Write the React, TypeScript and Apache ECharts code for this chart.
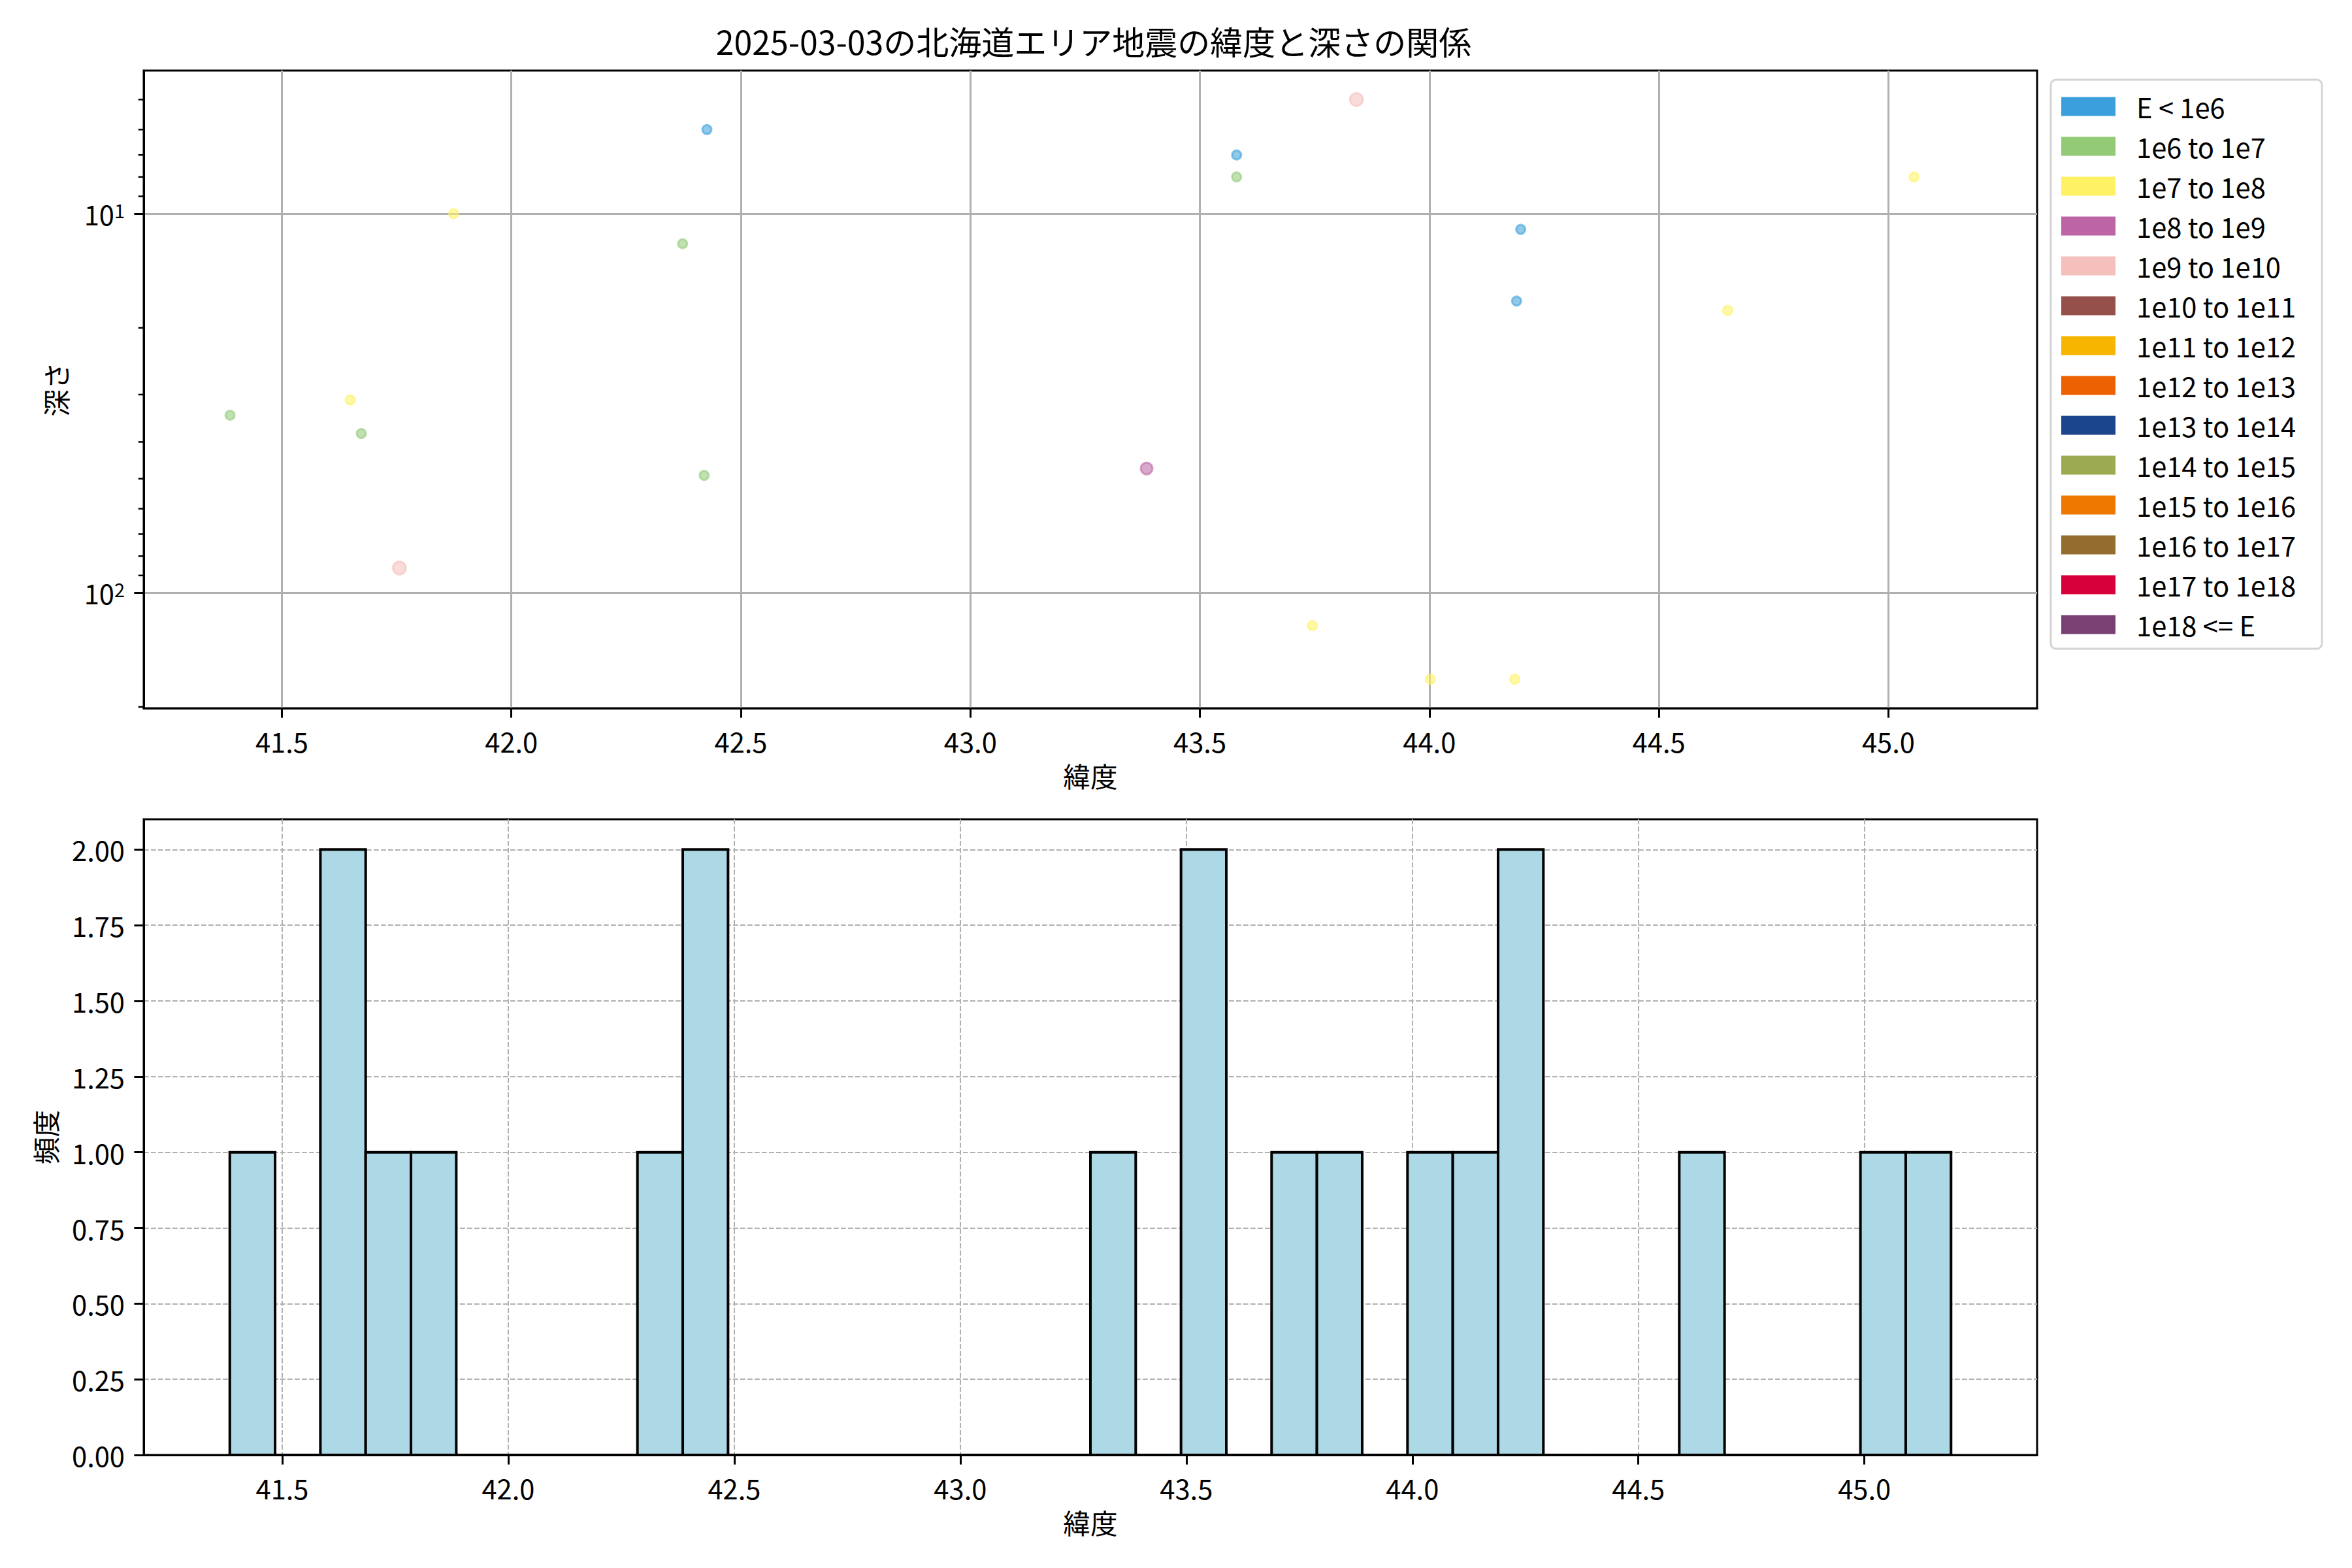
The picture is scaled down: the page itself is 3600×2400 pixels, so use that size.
import React, { useEffect, useRef } from "react";
import * as echarts from "echarts";

const TITLE = "2025-03-03の北海道エリア地震の緯度と深さの関係";
const X_NAME = "緯度";
const Y_NAME_TOP = "深さ";
const Y_NAME_BOTTOM = "頻度";

const energyClasses = [
  "E < 1e6", "1e6 to 1e7", "1e7 to 1e8", "1e8 to 1e9", "1e9 to 1e10",
  "1e10 to 1e11", "1e11 to 1e12", "1e12 to 1e13", "1e13 to 1e14",
  "1e14 to 1e15", "1e15 to 1e16", "1e16 to 1e17", "1e17 to 1e18", "1e18 <= E",
];
const classColors = [
  "#3A9FDB", "#93CA76", "#FEF264", "#BC64A4", "#F5BFBC",
  "#95504C", "#F8B500", "#EC6102", "#1B468D",
  "#9CAB50", "#EE7800", "#946C2D", "#D7003A", "#7B4073",
];

// scatter: latitude, depth, energy class index, marker size
const quakeLat = [41.387, 41.649, 41.673, 41.756, 41.874, 42.373, 42.420, 42.426, 43.384, 43.580, 43.580, 43.745, 43.841, 44.002, 44.186, 44.199, 44.190, 44.650, 45.056];
const quakeDepth = [34, 31, 38, 86, 10, 12, 49, 6, 47, 7, 8, 122, 5, 169, 169, 11, 17, 18, 8];
const quakeClass = [1, 2, 1, 4, 2, 1, 1, 0, 3, 0, 1, 2, 4, 2, 2, 0, 0, 2, 2];
const quakeSize = [14, 14, 14, 20, 14, 14, 14, 14, 18, 14, 14, 14, 20, 14, 14, 14, 14, 14, 14];

// histogram
const histStart = 41.384;
const histBinWidth = 0.1002;
const histCounts = [1, 0, 2, 1, 1, 0, 0, 0, 0, 1, 2, 0, 0, 0, 0, 0, 0, 0, 0, 1, 0, 2, 0, 1, 1, 0, 1, 1, 2, 0, 0, 0, 1, 0, 0, 0, 1, 1];

// axis limits / ticks
const topXMin = 41.199;
const topXMax = 45.324;
const latTicks = [41.5, 42.0, 42.5, 43.0, 43.5, 44.0, 44.5, 45.0];
const depthMajorTicks = [10, 100];
const depthMinorTicks = [5, 6, 7, 8, 9, 20, 30, 40, 50, 60, 70, 80, 90, 200];
const countTicks = [0, 0.25, 0.5, 0.75, 1.0, 1.25, 1.5, 1.75, 2.0];

const FONT = "'Noto Sans CJK JP', 'Noto Sans', sans-serif";
const FS = 41.7;

function hexToRgba(hex: string, a: number) {
  const n = parseInt(hex.slice(1), 16);
  return `rgba(${(n >> 16) & 255},${(n >> 8) & 255},${n & 255},${a})`;
}

function isTick(list: number[], v: number) {
  return list.some((t) => Math.abs(t - v) < 1e-6 * Math.max(1, Math.abs(t)));
}

export default function App() {
  const ref = useRef<HTMLDivElement>(null);

  useEffect(() => {
    if (!ref.current) return;
    const chart = echarts.init(ref.current, undefined, { renderer: "svg" });

    // log-depth limits with 5% margin
    const lMin = Math.log10(Math.min(...quakeDepth));
    const lMax = Math.log10(Math.max(...quakeDepth));
    const lSpan = lMax - lMin;
    const yTopMin = Math.pow(10, lMin - 0.05 * lSpan);
    const yTopMax = Math.pow(10, lMax + 0.05 * lSpan);

    const histEnd = histStart + histCounts.length * histBinWidth;
    const hSpan = histEnd - histStart;
    const botXMin = histStart - 0.05 * hSpan;
    const botXMax = histEnd + 0.05 * hSpan;
    const histYMax = Math.max(...histCounts) * 1.05;

    const mkX = (gi: number, min: number, max: number, dashed: boolean) => ({
      type: "value",
      gridIndex: gi,
      min,
      max,
      splitNumber: 8,
      name: X_NAME,
      nameLocation: "middle",
      nameGap: 82,
      nameTextStyle: { fontSize: FS, color: "#000", fontFamily: FONT },
      axisLine: { show: true, onZero: false, lineStyle: { color: "#000", width: 3 } },
      axisTick: { show: true, length: 14.6, customValues: latTicks, lineStyle: { color: "#000", width: 3 } },
      axisLabel: {
        customValues: latTicks,
        fontSize: FS,
        color: "#000",
        fontFamily: FONT,
        margin: 29,
        formatter: (v: number) => (isTick(latTicks, v) ? v.toFixed(1) : ""),
      },
      splitLine: {
        show: true,
        showMinLine: true,
        showMaxLine: true,
        lineStyle: dashed
          ? { color: "#b0b0b0", width: 2, type: [7.7, 3.3] }
          : { color: "#b0b0b0", width: 3 },
      },
    });

    const scatterSeries = energyClasses.map((name, k) => {
      const data: any[] = [];
      quakeLat.forEach((lat, i) => {
        if (quakeClass[i] === k) data.push({ value: [lat, quakeDepth[i]], symbolSize: quakeSize[i] });
      });
      return {
        type: "scatter",
        name,
        xAxisIndex: 0,
        yAxisIndex: 0,
        data,
        symbol: "circle",
        itemStyle: {
          color: hexToRgba(classColors[k], 0.7),
          borderColor: hexToRgba(classColors[k], 0.7),
          borderWidth: 3,
        },
        emphasis: { disabled: true },
        z: 3,
      };
    });

    const option: any = {
      animation: false,
      backgroundColor: "#fff",
      textStyle: { fontFamily: FONT },
      title: {
        text: TITLE,
        left: 1669,
        top: 32,
        textAlign: "center",
        textStyle: { fontSize: 50, fontWeight: "normal", color: "#000", fontFamily: FONT },
      },
      legend: {
        orient: "vertical",
        left: 3139,
        top: 122,
        padding: [20, 40, 16, 16],
        itemWidth: 83,
        itemHeight: 29,
        itemGap: 19,
        icon: "rect",
        selectedMode: false,
        borderColor: "#d4d4d4",
        borderWidth: 3,
        borderRadius: 8,
        backgroundColor: "#fff",
        textStyle: { fontSize: FS, color: "#000", lineHeight: 42, padding: [0, 0, 0, 27], fontFamily: FONT },
        data: energyClasses.map((c, i) => ({
          name: c,
          icon: "rect",
          itemStyle: { color: classColors[i], borderWidth: 0, opacity: 1 },
        })),
      },
      grid: [
        { left: 220, top: 108, width: 2898, height: 976, show: true, borderColor: "#000", borderWidth: 3, backgroundColor: "transparent" },
        { left: 220, top: 1254, width: 2898, height: 973, show: true, borderColor: "#000", borderWidth: 3, backgroundColor: "transparent" },
      ],
      xAxis: [mkX(0, topXMin, topXMax, false), mkX(1, botXMin, botXMax, true)],
      yAxis: [
        {
          type: "log",
          logBase: 10,
          gridIndex: 0,
          inverse: true,
          min: yTopMin,
          max: yTopMax,
          name: Y_NAME_TOP,
          nameLocation: "middle",
          nameRotate: 90,
          nameGap: 114,
          nameTextStyle: { fontSize: FS, color: "#000", fontFamily: FONT },
          axisLine: { show: true, lineStyle: { color: "#000", width: 3 } },
          axisTick: { show: true, length: 14.6, customValues: depthMajorTicks, lineStyle: { color: "#000", width: 3 } },
          axisLabel: {
            customValues: depthMajorTicks,
            margin: 29,
            color: "#000",
            fontFamily: FONT,
            formatter: (v: number) => {
              const e = Math.round(Math.log10(v));
              if (Math.abs(v - Math.pow(10, e)) > 1e-6 * v) return "";
              return `{b|10}{s|${e}}`;
            },
            rich: {
              b: { fontSize: FS, color: "#000", fontFamily: FONT },
              s: { fontSize: 29, color: "#000", fontFamily: FONT, verticalAlign: "top" },
            },
          },
          splitLine: { show: true, showMinLine: true, showMaxLine: true, lineStyle: { color: "#b0b0b0", width: 3 } },
        },
        {
          type: "value",
          gridIndex: 1,
          min: 0,
          max: histYMax,
          interval: 0.25,
          name: Y_NAME_BOTTOM,
          nameLocation: "middle",
          nameRotate: 90,
          nameGap: 130,
          nameTextStyle: { fontSize: FS, color: "#000", fontFamily: FONT },
          axisLine: { show: true, lineStyle: { color: "#000", width: 3 } },
          axisTick: { show: true, length: 14.6, customValues: countTicks, lineStyle: { color: "#000", width: 3 } },
          axisLabel: {
            customValues: countTicks,
            margin: 29,
            fontSize: FS,
            color: "#000",
            fontFamily: FONT,
            formatter: (v: number) => (isTick(countTicks, v) ? v.toFixed(2) : ""),
          },
          splitLine: {
            show: true,
            showMinLine: true,
            showMaxLine: true,
            lineStyle: { color: "#b0b0b0", width: 2, type: [7.7, 3.3] },
          },
        },
      ],
      series: [
        ...scatterSeries,
        {
          type: "custom",
          name: "minorTicks",
          xAxisIndex: 0,
          yAxisIndex: 0,
          clip: false,
          silent: true,
          data: depthMinorTicks.map((v) => [topXMin, v]),
          encode: { x: 0, y: 1 },
          renderItem: (_p: any, api: any) => {
            const pt = api.coord([api.value(0), api.value(1)]);
            return {
              type: "line",
              shape: { x1: pt[0] - 8.3, y1: pt[1], x2: pt[0], y2: pt[1] },
              style: { stroke: "#000", lineWidth: 2.5 },
            };
          },
          z: 4,
        },
        {
          type: "custom",
          name: "hist",
          xAxisIndex: 1,
          yAxisIndex: 1,
          clip: false,
          silent: true,
          data: histCounts.map((c, i) => [histStart + i * histBinWidth, histStart + (i + 1) * histBinWidth, c]),
          encode: { x: [0, 1], y: 2 },
          renderItem: (_p: any, api: any) => {
            const a = api.coord([api.value(0), api.value(2)]);
            const b = api.coord([api.value(1), 0]);
            return {
              type: "rect",
              shape: { x: a[0], y: a[1], width: b[0] - a[0], height: b[1] - a[1] },
              style: { fill: "#ADD8E6", stroke: "#000", lineWidth: 4 },
            };
          },
          z: 3,
        },
      ],
    };

    chart.setOption(option);
    return () => chart.dispose();
  }, []);

  return (
    <div
      ref={ref}
      style={{ position: "absolute", left: 0, top: 0, width: 3600, height: 2400, background: "#fff" }}
    />
  );
}
